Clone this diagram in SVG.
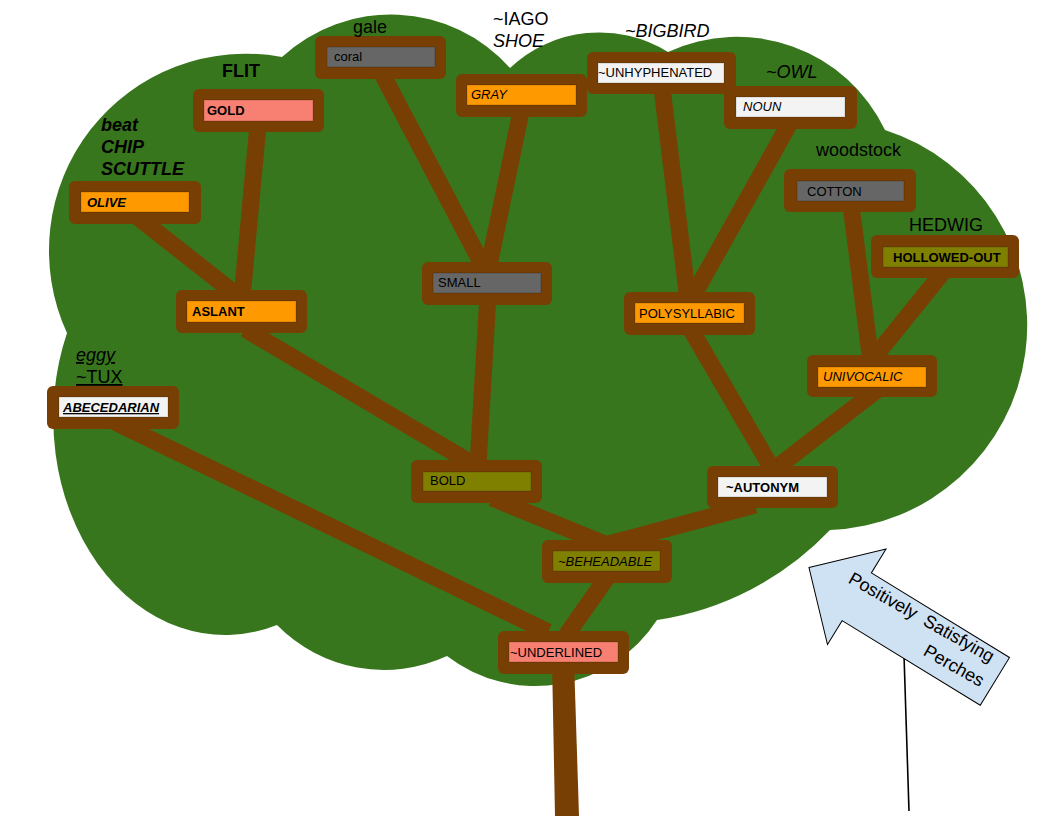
<svg xmlns="http://www.w3.org/2000/svg" width="1056" height="816" viewBox="0 0 1056 816">
<style>
.box{fill:#783f04}
.in{stroke:#000;stroke-opacity:0.18;stroke-width:1}
.lbl{font-family:"Liberation Sans",Arial,sans-serif;font-size:13px;fill:#000}
.tag{font-family:"Liberation Sans",Arial,sans-serif;font-size:18px;fill:#000}
.b{font-weight:bold}
.i{font-style:italic}
.u{text-decoration:underline}
#connectors line{stroke:#783f04;stroke-width:17;stroke-linecap:butt}
</style>
<rect width="1056" height="816" fill="#ffffff"/>
<path id="cloud" fill="#38761d" d="M67,333 A197,197 0 0 1 282,57 A160,160 0 0 1 510,68 A130,130 0 0 1 668,52 A164,164 0 0 1 885,130 A205,205 0 0 1 830,530 A300,300 0 0 1 657,620 A145,145 0 0 1 447,656 A150,150 0 0 1 277,625 A172,217 0 0 1 67,333 Z"/>
<polygon id="trunk" class="box" points="552,660 574,660 579,816 555,816"/>
<g id="connectors">
<line x1="130" y1="211" x2="238" y2="296"/>
<line x1="258" y1="125" x2="242" y2="298"/>
<line x1="245" y1="329" x2="468" y2="461"/>
<line x1="115" y1="422" x2="548" y2="632"/>
<line x1="378" y1="66" x2="482" y2="264"/>
<line x1="522" y1="107" x2="489" y2="265"/>
<line x1="488" y1="295" x2="478" y2="465"/>
<line x1="492" y1="498" x2="605" y2="544"/>
<line x1="755" y1="505" x2="605" y2="545"/>
<line x1="610" y1="573" x2="563" y2="640"/>
<line x1="662" y1="88" x2="688" y2="300"/>
<line x1="792" y1="119" x2="692" y2="298"/>
<line x1="851" y1="205" x2="871" y2="362"/>
<line x1="944" y1="271" x2="872" y2="360"/>
<line x1="877" y1="390" x2="771" y2="472"/>
<line x1="690" y1="328" x2="774" y2="472"/>
</g>
<g id="n-coral"><rect class="box" x="315" y="36" width="131" height="43" rx="6"/><rect class="in" x="327" y="47" width="108" height="20" fill="#666666"/><text class="lbl" x="334" y="61">coral</text></g>
<g id="n-gray"><rect class="box" x="456" y="74" width="131" height="43" rx="6"/><rect class="in" x="467" y="85" width="109" height="20" fill="#ff9900"/><text class="lbl i" x="471" y="99">GRAY</text></g>
<g id="n-gold"><rect class="box" x="193" y="89" width="131" height="43" rx="6"/><rect class="in" x="204" y="100" width="109" height="21" fill="#f88072"/><text class="lbl b" x="207" y="115">GOLD</text></g>
<g id="n-olive"><rect class="box" x="69" y="181" width="132" height="43" rx="6"/><rect class="in" x="81" y="192" width="108" height="20" fill="#ff9900"/><text class="lbl b i" x="87" y="207">OLIVE</text></g>
<g id="n-unhyphenated"><rect class="box" x="587" y="52" width="149" height="42" rx="6"/><rect class="in" x="598" y="63" width="126" height="20" fill="#f3f3f3"/><text class="lbl" x="598" y="77">~UNHYPHENATED</text></g>
<g id="n-noun"><rect class="box" x="724" y="86" width="133" height="43" rx="6"/><rect class="in" x="736" y="97" width="109" height="20" fill="#f3f3f3"/><text class="lbl i" x="743" y="111">NOUN</text></g>
<g id="n-cotton"><rect class="box" x="784" y="169" width="132" height="43" rx="6"/><rect class="in" x="797" y="181" width="107" height="20" fill="#666666"/><text class="lbl" x="807" y="196">COTTON</text></g>
<g id="n-hollowed"><rect class="box" x="871" y="235" width="148" height="43" rx="6"/><rect class="in" x="883" y="247" width="125" height="20" fill="#808000"/><text class="lbl b" x="893" y="262">HOLLOWED-OUT</text></g>
<g id="n-aslant"><rect class="box" x="176" y="290" width="131" height="43" rx="6"/><rect class="in" x="187" y="301" width="109" height="21" fill="#ff9900"/><text class="lbl b" x="192" y="316">ASLANT</text></g>
<g id="n-abecedarian"><rect class="box" x="47" y="386" width="132" height="43" rx="6"/><rect class="in" x="59" y="397" width="109" height="20" fill="#f3f3f3"/><text class="lbl b i u" x="63" y="412">ABECEDARIAN</text></g>
<g id="n-small"><rect class="box" x="422" y="262" width="130" height="43" rx="6"/><rect class="in" x="433" y="273" width="108" height="20" fill="#666666"/><text class="lbl" x="438" y="287">SMALL</text></g>
<g id="n-polysyllabic"><rect class="box" x="624" y="292" width="131" height="43" rx="6"/><rect class="in" x="635" y="303" width="109" height="20" fill="#ff9900"/><text class="lbl" x="639" y="318">POLYSYLLABIC</text></g>
<g id="n-univocalic"><rect class="box" x="807" y="355" width="130" height="42" rx="6"/><rect class="in" x="818" y="367" width="108" height="20" fill="#ff9900"/><text class="lbl i" x="823" y="381">UNIVOCALIC</text></g>
<g id="n-bold"><rect class="box" x="411" y="460" width="131" height="43" rx="6"/><rect class="in" x="423" y="472" width="108" height="19" fill="#808000"/><text class="lbl" x="430" y="485">BOLD</text></g>
<g id="n-autonym"><rect class="box" x="707" y="466" width="131" height="42" rx="6"/><rect class="in" x="718" y="477" width="109" height="20" fill="#f3f3f3"/><text class="lbl b" x="726" y="492">~AUTONYM</text></g>
<g id="n-beheadable"><rect class="box" x="542" y="540" width="130" height="43" rx="6"/><rect class="in" x="553" y="551" width="107" height="20" fill="#808000"/><text class="lbl i" x="558" y="566">~BEHEADABLE</text></g>
<g id="n-underlined"><rect class="box" x="498" y="631" width="131" height="43" rx="6"/><rect class="in" x="509" y="642" width="109" height="20" fill="#f88072"/><text class="lbl" x="510" y="657">~UNDERLINED</text></g>
<g id="labels">
<text class="tag" x="353" y="33">gale</text>
<text class="tag" x="493" y="25">~IAGO</text>
<text class="tag i" x="493" y="47">SHOE</text>
<text class="tag b" x="222" y="77">FLIT</text>
<text class="tag b i" x="101" y="131">beat</text>
<text class="tag b i" x="101" y="153">CHIP</text>
<text class="tag b i" x="101" y="175">SCUTTLE</text>
<text class="tag i" x="625" y="37">~BIGBIRD</text>
<text class="tag i" x="766" y="78">~OWL</text>
<text class="tag" x="816" y="156">woodstock</text>
<text class="tag" x="909" y="231">HEDWIG</text>
<text class="tag i u" x="76" y="361">eggy</text>
<text class="tag u" x="76" y="383">~TUX</text>
</g>
<g id="sign">
<line x1="904" y1="655" x2="909" y2="811" stroke="#000" stroke-width="1.6"/>
<polygon transform="translate(809,567.5) rotate(31.5)" points="0,0 56,-56 56,-28 218,-28 218,28 56,28 56,56" fill="#cfe2f3" stroke="#000" stroke-width="1"/>
<g transform="translate(990,663) rotate(29.5)">
<text class="tag" x="0" y="0" text-anchor="end" xml:space="preserve" style="white-space:pre">Positively  Satisfying</text>
<text class="tag" x="3" y="26" text-anchor="end">Perches</text>
</g>
</g>
</svg>
